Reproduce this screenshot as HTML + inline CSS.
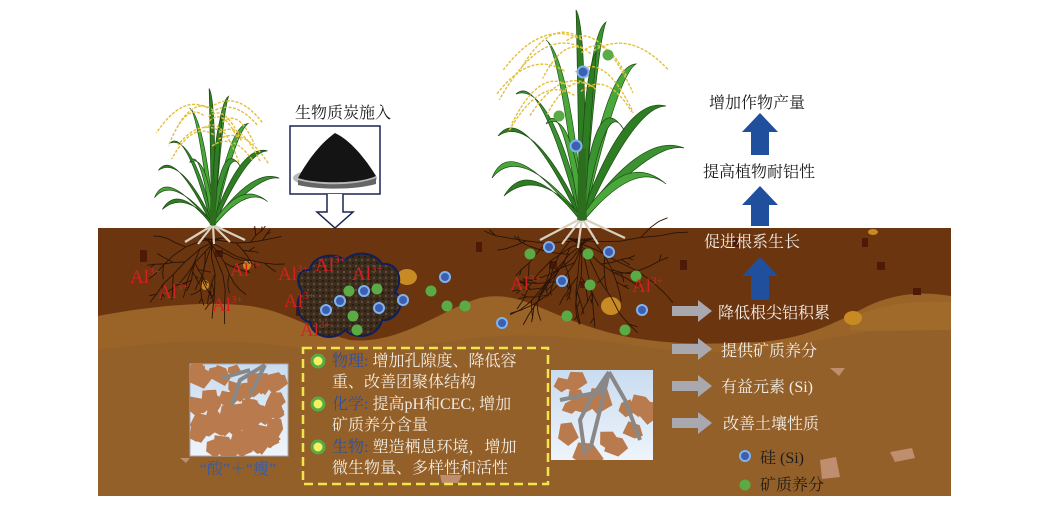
<!DOCTYPE html>
<html><head><meta charset="utf-8"><style>
body{margin:0;background:#fff;}
svg{display:block;font-family:"Liberation Serif","Noto Serif CJK SC","Noto Sans CJK SC",serif;}
</style></head><body>
<svg id="s" width="1045" height="515" viewBox="0 0 1045 515" xmlns="http://www.w3.org/2000/svg">
<defs>
<linearGradient id="sky" x1="0" y1="0" x2="0" y2="1"><stop offset="0" stop-color="#c9dcf0"/><stop offset="1" stop-color="#eef4fb"/></linearGradient>
<pattern id="dots" width="6" height="6" patternUnits="userSpaceOnUse"><rect width="6" height="6" fill="#3b2c1d"/><circle cx="2" cy="2" r="1.2" fill="#5a4a36"/><circle cx="5" cy="5" r="1" fill="#241a10"/></pattern>
<clipPath id="cL"><rect x="190" y="364" width="98" height="92"/></clipPath>
<clipPath id="cR"><rect x="551" y="370" width="102" height="90"/></clipPath>
</defs>
<rect x="98" y="228" width="853" height="268" fill="#6b3510"/>
<path d="M98 316 C140 308 200 300 250 306 C290 312 310 330 350 340 C400 345 440 310 480 298 C520 290 540 312 600 330 C650 345 700 345 760 342 C810 338 840 320 870 305 C900 292 925 292 951 296 L951 496 L98 496Z" fill="#9a6428"/>
<path d="M98 350 C180 338 250 340 300 348 C380 356 440 340 500 336 C580 332 640 350 700 352 C780 354 850 330 951 320 L951 496 L98 496Z" fill="#93602a"/>
<path d="M850 318 C880 305 910 300 951 302 L951 330 C910 330 880 332 850 330Z" fill="#a06a2a"/>
<g fill="#4d1a08">
<rect x="140" y="250" width="7" height="12"/><rect x="215" y="250" width="8" height="7"/><rect x="296" y="308" width="8" height="8"/><rect x="476" y="242" width="6" height="10"/><rect x="549" y="261" width="8" height="8"/><rect x="580" y="281" width="9" height="7"/><rect x="732" y="238" width="7" height="9"/><rect x="862" y="238" width="6" height="9"/><rect x="877" y="262" width="8" height="8"/><rect x="913" y="288" width="8" height="7"/><rect x="680" y="260" width="7" height="10"/>
</g>
<g fill="#c88a22"><ellipse cx="407" cy="277" rx="10" ry="8"/><ellipse cx="611" cy="306" rx="10" ry="9"/><ellipse cx="205" cy="285" rx="4" ry="5"/><ellipse cx="247" cy="265" rx="4" ry="5"/><ellipse cx="873" cy="232" rx="5" ry="3"/><ellipse cx="853" cy="318" rx="9" ry="7"/></g>
<g fill="#c99a80" opacity=".8"><path d="M830 368 l15 0 -6 8z"/><path d="M890 452 l22 -4 3 10 -20 4z"/><path d="M820 460 l16 -3 4 20 -18 2z"/><path d="M180 458 l10 0 -4 5z"/><path d="M440 475 l22 0 -4 8 -16 0z"/></g>
<g id="roots" stroke="#2a1406" stroke-width="0.9" fill="none"></g>
<g stroke="#d8d0c0" stroke-width="2.2" fill="none">
<path d="M213 225 L185 242 M213 225 L198 244 M213 225 L214 244 M213 225 L230 242 M213 225 L245 240"/>
<path d="M582 218 L540 240 M582 218 L562 244 M582 218 L578 248 M582 218 L598 244 M582 218 L625 238"/>
</g>
<path d="M310 270 C312 255 335 252 345 260 C355 250 375 252 382 264 C398 262 404 280 395 292 C408 302 396 322 382 320 C378 338 355 340 345 330 C335 342 312 338 310 322 C296 320 294 300 303 292 C294 282 298 268 310 270Z" fill="url(#dots)" stroke="#0e1f5a" stroke-width="2"/>
<g stroke="#7fb2ee" stroke-width="2" fill="#3c5fb0" id="blue"></g>
<g fill="#5aab45" id="green"></g>
<g fill="#d42020" font-size="19">
<text x="130" y="283">Al<tspan font-size="11" dy="-8">3+</tspan></text>
<text x="158" y="298">Al<tspan font-size="11" dy="-8">3+</tspan></text>
<text x="230" y="276">Al<tspan font-size="11" dy="-8">3+</tspan></text>
<text x="212" y="311">Al<tspan font-size="11" dy="-8">3+</tspan></text>
<text x="278" y="280">Al<tspan font-size="11" dy="-8">3+</tspan></text>
<text x="315" y="271">Al<tspan font-size="11" dy="-8">3+</tspan></text>
<text x="352" y="280">Al<tspan font-size="11" dy="-8">3+</tspan></text>
<text x="284" y="307">Al<tspan font-size="11" dy="-8">3+</tspan></text>
<text x="300" y="336">Al<tspan font-size="11" dy="-8">3+</tspan></text>
<text x="510" y="290">Al<tspan font-size="11" dy="-8">3+</tspan></text>
<text x="632" y="292">Al<tspan font-size="11" dy="-8">3+</tspan></text>
</g>
<rect x="190" y="364" width="98" height="92" fill="url(#sky)" stroke="#aab" stroke-width="1"/>
<g fill="#b97a4e" id="chunksL" clip-path="url(#cL)"></g>
<path d="M265 365 L240 380 L232 405 M265 365 L250 395 M250 370 L222 378" stroke="#888" stroke-width="4" fill="none"/>
<text x="238" y="474" text-anchor="middle" fill="#3a5aa0" font-size="16">“酸”＋“瘦”</text>
<rect x="551" y="370" width="102" height="90" fill="url(#sky)"/>
<g fill="#b97a4e" id="chunksR" clip-path="url(#cR)"></g>
<g clip-path="url(#cR)"><path d="M609 372 L590 400 L580 420 L585 455 M609 372 L600 410 L590 450 M609 372 L625 400 L640 440 M609 372 L600 392 L560 400" stroke="#888" stroke-width="4" fill="none"/></g>
<rect x="303" y="348" width="245" height="136" fill="none" stroke="#f0e54a" stroke-width="2.5" stroke-dasharray="9,5"/>
<g fill="#f4f060" stroke="#58ab44" stroke-width="3"><circle cx="318" cy="361" r="6"/><circle cx="318" cy="404" r="6"/><circle cx="318" cy="447" r="6"/></g>
<g font-size="16" fill="#f2ece2">
<text x="332" y="366"><tspan fill="#2d4fa0">物理:</tspan> 增加孔隙度、降低容</text>
<text x="332" y="387">重、改善团聚体结构</text>
<text x="332" y="409"><tspan fill="#2d4fa0">化学:</tspan> 提高pH和CEC, 增加</text>
<text x="332" y="430">矿质养分含量</text>
<text x="332" y="452"><tspan fill="#2d4fa0">生物:</tspan> 塑造栖息环境，增加</text>
<text x="332" y="473">微生物量、多样性和活性</text>
</g>
<g fill="#a8a8ae" id="garr"></g>
<g font-size="16" fill="#f3efe8">
<text x="718" y="318">降低根尖铝积累</text>
<text x="721" y="356">提供矿质养分</text>
<text x="721" y="392">有益元素 (Si)</text>
<text x="723" y="429">改善土壤性质</text>
<text x="704" y="247">促进根系生长</text>
</g>
<g font-size="16" fill="#1a1a1a">
<text x="760" y="463">硅 (Si)</text>
<text x="760" y="490">矿质养分</text>
<text x="757" y="108" text-anchor="middle">增加作物产量</text>
<text x="759" y="177" text-anchor="middle">提高植物耐铝性</text>
<text x="343" y="118" text-anchor="middle">生物质炭施入</text>
</g>
<circle cx="745" cy="456" r="5" fill="#3c5fb0" stroke="#7fb2ee" stroke-width="2"/>
<circle cx="745" cy="485" r="5.5" fill="#5aab45"/>
<g fill="#1f4f9d">
<path d="M742 132 L760 113 L778 132 L769 132 L769 155 L751 155 L751 132Z"/>
<path d="M742 205 L760 186 L778 205 L769 205 L769 226 L751 226 L751 205Z"/>
<path d="M742 276 L760 257 L778 276 L769 276 L769 300 L751 300 L751 276Z"/>
</g>
<rect x="290" y="126" width="90" height="68" fill="#fff" stroke="#1a2450" stroke-width="1.5"/>
<ellipse cx="335" cy="178" rx="42" ry="10" fill="#8a8a8a" opacity=".6"/>
<path d="M298 178 C305 165 318 145 335 133 C350 140 365 158 376 176 C360 184 315 184 298 178Z" fill="#141414"/>
<path d="M298 180 C320 186 355 186 376 178 L376 184 C355 190 320 190 298 185Z" fill="#666"/>
<path d="M327 194 L327 212 L317 212 L335 228 L353 212 L343 212 L343 194" fill="#fff" stroke="#1a2450" stroke-width="1.5"/>
<g id="plants"></g>
</svg>
<script>
var NS="http://www.w3.org/2000/svg";
function el(p,t,a){var e=document.createElementNS(NS,t);for(var k in a)e.setAttribute(k,a[k]);document.getElementById(p).appendChild(e);return e;}
var seed=7;function r(){seed=(seed*9301+49297)%233280;return seed/233280;}
function branch(x,y,ang,len,d){if(d<=0||len<3)return;var x2=x+Math.cos(ang)*len,y2=y+Math.sin(ang)*len;el("roots","path",{d:"M"+x.toFixed(1)+" "+y.toFixed(1)+" L"+x2.toFixed(1)+" "+y2.toFixed(1)});
branch(x2,y2,ang+(r()-0.5)*0.5,len*0.85,d-1);if(r()<0.45)branch(x2,y2,ang+(r()<0.5?-1:1)*(0.5+r()*0.4),len*0.6,d-1);}
function rootSys(cx,cy,n,L,D){for(var i=0;i<n;i++){var a=Math.PI/2+(i/(n-1)-0.5)*2.9;branch(cx+(i-n/2)*3,cy+6,a,L*(0.8+r()*0.4),D);}}
rootSys(213,232,9,20,6);rootSys(582,232,12,26,6);
[[340,301],[364,291],[326,310],[379,308],[403,300],[445,277],[502,323],[562,281],[609,252],[642,310],[549,247]].forEach(function(p){el("blue","circle",{cx:p[0],cy:p[1],r:5});});
[[349,291],[377,289],[353,316],[357,330],[431,291],[447,306],[465,306],[530,254],[588,254],[590,285],[636,276],[567,316],[625,330]].forEach(function(p){el("green","circle",{cx:p[0],cy:p[1],r:5.5});});
function chunks(id,x0,y0,w,h,n,sz){for(var i=0;i<n;i++){var x=x0+r()*w,y=y0+r()*h,s=sz+r()*6;var pts=[];for(var k=0;k<5;k++){var a=k/5*6.28+r()*.5;pts.push((x+Math.cos(a)*s*(0.6+r()*.5)).toFixed(1)+","+(y+Math.sin(a)*s*(0.6+r()*.5)).toFixed(1));}el(id,"polygon",{points:pts.join(" ")});}}
chunks("chunksL",196,370,86,80,70,8);chunks("chunksR",558,378,90,76,14,10);
[311,349,386,423].forEach(function(y){el("garr","path",{d:"M672 "+(y-5)+" L698 "+(y-5)+" L698 "+(y-11)+" L712 "+y+" L698 "+(y+11)+" L698 "+(y+5)+" L672 "+(y+5)+"Z"});});
function leaf(bx,by,px,py,tx,ty,w,c){
el("plants","path",{d:"M"+(bx-w*0.4)+" "+by+" Q"+(px-w)+" "+(py-w)+" "+tx+" "+ty+" Q"+(px+w)+" "+(py+w)+" "+(bx+w*0.4)+" "+by+"Z",fill:c,stroke:"#1d4a14","stroke-width":0.7});}
function plant(cx,by,s){
var L=[[-55,-70,-75,-35],[-45,-95,-70,-70],[-30,-120,-55,-105],[-15,-140,-30,-150],[0,-165,-5,-175],[8,-150,20,-165],[25,-125,45,-130],[40,-100,70,-95],[55,-70,85,-60],[40,-55,70,-30],[-40,-50,-65,-20],[15,-110,35,-75],[-12,-100,-30,-80],[5,-120,12,-140]];
L.forEach(function(p,i){leaf(cx,by,cx+p[0]*s,by+p[1]*s,cx+p[2]*s,by+p[3]*s,4.5*s,i%3==0?"#4aa83a":(i%3==1?"#2e7d22":"#3b9230"));});
el("plants","path",{d:"M"+(cx-4*s)+" "+by+" L"+(cx-3*s)+" "+(by-60*s)+" L"+(cx+3*s)+" "+(by-60*s)+" L"+(cx+4*s)+" "+by+"Z",fill:"#2d6e1e"});
for(var i=0;i<14;i++){var sx=cx+(r()-0.5)*30*s,sy=by-(100+r()*55)*s,dir=(r()<0.5?-1:1),ex=sx+dir*(35+r()*35)*s,ey=sy+(15+r()*30)*s;
el("plants","path",{d:"M"+sx.toFixed(1)+" "+sy.toFixed(1)+" Q"+((sx+ex)/2).toFixed(1)+" "+(sy-18*s).toFixed(1)+" "+ex.toFixed(1)+" "+ey.toFixed(1),fill:"none",stroke:"#e2c03c","stroke-width":1.4,"stroke-dasharray":"3,1.5"});}}
plant(213,225,0.78);plant(582,220,1.2);
[[583,72,"#3c5fb0"],[576,146,"#3c5fb0"],[608,55,"#5aab45"],[559,116,"#5aab45"]].forEach(function(p){el("plants","circle",{cx:p[0],cy:p[1],r:5.5,fill:p[2],stroke:p[2]=="#3c5fb0"?"#7fb2ee":"none","stroke-width":2});});
</script>
</body></html>
